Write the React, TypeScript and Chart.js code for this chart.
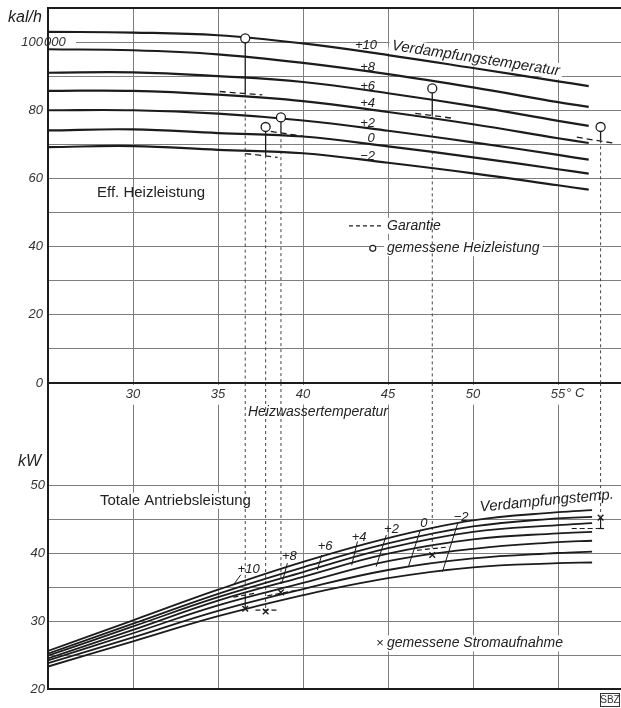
import React, { useEffect, useRef } from 'react';
import { Chart, registerables } from 'chart.js';
Chart.register(...registerables);

const FONT = "'Liberation Sans', 'DejaVu Sans', sans-serif";
const INK = '#1c1c1c';
const GRID = '#7e7e7e';

// ---------- top panel: effective heating capacity (1000 kcal/h) ----------
const tempX = [25, 30, 35, 40, 45, 50, 55, 56.8];
const heatP10 = [103.0, 102.8, 102.0, 99.6, 96.2, 92.4, 88.5, 87.1];
const heatP8 = [97.9, 97.6, 96.4, 93.9, 90.6, 86.7, 82.4, 81.0];
const heatP6 = [91.0, 91.1, 90.0, 88.3, 85.0, 81.2, 76.9, 75.4];
const heatP4 = [85.7, 85.7, 84.6, 82.7, 79.5, 75.9, 71.8, 70.4];
const heatP2 = [80.0, 80.0, 79.0, 77.0, 74.0, 70.6, 66.9, 65.5];
const heat0 = [74.1, 74.4, 73.3, 72.3, 69.4, 66.2, 62.7, 61.4];
const heatM2 = [69.2, 69.5, 68.4, 67.4, 64.6, 61.5, 58.0, 56.7];
const heatSeries = [heatP10, heatP8, heatP6, heatP4, heatP2, heat0, heatM2];
const evapLabels = ['+10', '+8', '+6', '+4', '+2', '0', '\u22122'];
const heatLabelX = [43.7, 43.8, 43.8, 43.8, 43.8, 44.0, 43.8];
const heatLabelY = [99.1, 92.7, 87.1, 82.0, 76.1, 71.7, 66.5];

// measurements (circles) and guarantee values
const measX = [36.6, 37.8, 38.7, 47.6, 57.5];
const measHeat = [101.1, 75.1, 77.9, 86.4, 75.1];
const guarHeat = [84.9, 66.8, 73.3, 78.5, 71.2];
const guarHeatX0 = [35.1, 36.6, 38.1, 46.6, 56.1];
const guarHeatX1 = [37.6, 38.5, 40.0, 48.9, 58.2];
const guarHeatY0 = [85.5, 67.3, 73.8, 79.1, 72.1];
const guarHeatY1 = [84.5, 66.2, 72.4, 77.6, 70.4];

// ---------- bottom panel: total driving power (kW) ----------
const powX = [25, 30, 35, 40, 45, 50, 55, 57];
const powP10 = [25.6, 30.1, 34.6, 38.7, 42.2, 44.8, 46.0, 46.3];
const powP8 = [25.2, 29.6, 34.0, 37.9, 41.4, 43.9, 45.1, 45.3];
const powP6 = [24.9, 29.2, 33.5, 37.2, 40.7, 43.1, 44.1, 44.4];
const powP4 = [24.5, 28.7, 33.0, 36.5, 39.9, 42.0, 42.9, 43.1];
const powP2 = [24.2, 28.2, 32.3, 35.6, 38.8, 40.6, 41.6, 41.8];
const pow0 = [23.8, 27.6, 31.5, 34.7, 37.5, 39.2, 40.0, 40.2];
const powM2 = [23.3, 27.0, 30.7, 33.8, 36.3, 37.9, 38.5, 38.6];
const powSeries = [powP10, powP8, powP6, powP4, powP2, pow0, powM2];

const measPow = [31.8, 31.4, 34.2, 39.7, 45.2];
const powDropEnd = [33.8, 31.9, 34.5, 40.6, 45.5];
const guarPowX0 = [35.9, 37.2, 37.9, 46.7, 55.8];
const guarPowX1 = [37.2, 38.6, 39.8, 48.6, 57.3];
const guarPowY0 = [33.5, 31.6, 33.7, 40.4, 43.6];
const guarPowY1 = [34.1, 31.6, 34.6, 40.9, 43.6];
const powStemX = [36.6, 57.5];
const powStemFrom = [33.8, 45.2];
const powStemTo = [31.8, 43.6];

const leadX0 = [36.34, 39.08, 41.1, 43.2, 44.9, 46.9, 49.1];
const leadY0 = [36.8, 38.5, 39.7, 41.7, 42.65, 43.4, 44.4];
const leadX1 = [35.9, 38.75, 40.84, 42.86, 44.3, 46.2, 48.2];
const leadY1 = [35.3, 35.5, 37.5, 38.2, 38.0, 38.0, 37.25];
const leadLabelX = [36.8, 39.2, 41.3, 43.3, 45.2, 47.1, 49.3];
const leadLabelY = [37.6, 39.5, 40.9, 42.25, 43.5, 44.3, 45.3];

const pts = (xs: number[], ys: number[]) => xs.map((x, i) => ({ x, y: ys[i] }));

function seg(x0: number, y0: number, x1: number, y1: number, w = 1.2, dash: number[] = [], color = INK) {
  return {
    data: [{ x: x0, y: y0 }, { x: x1, y: y1 }],
    borderColor: color,
    borderWidth: w,
    borderDash: dash,
    pointRadius: 0,
    tension: 0,
    fill: false,
  };
}

function curve(xs: number[], ys: number[], w: number) {
  return {
    data: pts(xs, ys),
    borderColor: INK,
    borderWidth: w,
    pointRadius: 0,
    tension: 0.4,
    fill: false,
  };
}

type TOpt = { font: string; align?: CanvasTextAlign; rot?: number; bg?: boolean; color?: string };
function drawText(ctx: CanvasRenderingContext2D, s: string, x: number, y: number, o: TOpt) {
  ctx.save();
  ctx.translate(x, y);
  if (o.rot) ctx.rotate((o.rot * Math.PI) / 180);
  ctx.font = o.font;
  ctx.textAlign = o.align || 'left';
  ctx.textBaseline = 'middle';
  if (o.bg) {
    const w = ctx.measureText(s).width;
    const x0 = o.align === 'center' ? -w / 2 : o.align === 'right' ? -w : 0;
    ctx.fillStyle = '#fff';
    ctx.fillRect(x0 - 3, -8, w + 6, 16);
  }
  ctx.fillStyle = o.color || '#222';
  ctx.fillText(s, 0, 0);
  ctx.restore();
}

const it = (n: number) => `italic ${n}px ${FONT}`;
const up = (n: number) => `${n}px ${FONT}`;

const topPlugin = {
  id: 'topAnnot',
  beforeDatasetsDraw(chart: any) {
    const ctx = chart.ctx as CanvasRenderingContext2D;
    const xs = chart.scales.x, ys = chart.scales.y, ca = chart.chartArea;
    const X = (v: number) => xs.getPixelForValue(v);
    const Y = (v: number) => ys.getPixelForValue(v);
    ctx.save();
    ctx.strokeStyle = INK;
    ctx.lineWidth = 2;
    ctx.beginPath();
    ctx.moveTo(ca.left, ca.top);
    ctx.lineTo(ca.right, ca.top);
    ctx.stroke();
    ctx.restore();
    drawText(ctx, 'kal/h', 8, 18, { font: it(16) });
    ctx.save();
    ctx.fillStyle = '#fff';
    ctx.fillRect(ca.left + 2, Y(100) - 6, 26, 12);
    ctx.restore();
    drawText(ctx, '000', ca.left - 4, Y(100), { font: it(13), color: '#333' });
    drawText(ctx, 'Eff. Heizleistung', 97, Y(55.8), { font: up(15) });
    evapLabels.forEach((l, i) =>
      drawText(ctx, l, X(heatLabelX[i]), Y(heatLabelY[i]), { font: it(13), align: 'center' })
    );
    drawText(ctx, 'Verdampfungstemperatur', X(50.16), Y(95.2), { font: it(15), align: 'center', rot: 8.7, bg: true });
    // legend
    ctx.save();
    ctx.strokeStyle = INK;
    ctx.lineWidth = 1.2;
    ctx.setLineDash([4, 3]);
    ctx.beginPath();
    ctx.moveTo(X(42.7), Y(46.1));
    ctx.lineTo(X(44.8), Y(46.1));
    ctx.stroke();
    ctx.restore();
    drawText(ctx, 'Garantie', X(44.94), Y(46.1), { font: it(14), bg: true });
    drawText(ctx, 'gemessene Heizleistung', X(44.94), Y(39.5), { font: it(14), bg: true });
    ctx.save();
    ctx.fillStyle = '#fff';
    ctx.strokeStyle = INK;
    ctx.lineWidth = 1.2;
    ctx.beginPath();
    ctx.arc(X(44.1), Y(39.5), 3, 0, Math.PI * 2);
    ctx.fill();
    ctx.stroke();
    ctx.restore();
  },
  afterDraw(chart: any) {
    const ctx = chart.ctx as CanvasRenderingContext2D;
    const xs = chart.scales.x, ca = chart.chartArea;
    drawText(ctx, '\u00B0 C', xs.getPixelForValue(55) + 8, ca.bottom + 10, { font: it(13), color: '#333' });
  },
};

const botPlugin = {
  id: 'botAnnot',
  beforeDatasetsDraw(chart: any) {
    const ctx = chart.ctx as CanvasRenderingContext2D;
    const xs = chart.scales.x, ys = chart.scales.y;
    const X = (v: number) => xs.getPixelForValue(v);
    const Y = (v: number) => ys.getPixelForValue(v);
    drawText(ctx, 'Heizwassertemperatur', X(36.76), Y(60.7), { font: it(14) });
    drawText(ctx, 'kW', 18, Y(53.4), { font: it(16) });
    drawText(ctx, 'Totale Antriebsleistung', X(28.06), Y(47.7), { font: up(15), bg: true });
    drawText(ctx, '\u00D7', X(44.3), Y(26.7), { font: up(13) });
    drawText(ctx, 'gemessene Stromaufnahme', X(44.94), Y(26.7), { font: it(14), bg: true });
    evapLabels.forEach((l, i) =>
      drawText(ctx, l, X(leadLabelX[i]), Y(leadLabelY[i]), { font: it(13), align: 'center' })
    );
    drawText(ctx, 'Verdampfungstemp.', X(50.4), Y(46.7), { font: it(15), rot: -5.5 });
  },
  afterDraw(chart: any) {
    const ctx = chart.ctx as CanvasRenderingContext2D;
    const ca = chart.chartArea;
    ctx.save();
    ctx.strokeStyle = '#333';
    ctx.lineWidth = 1;
    ctx.strokeRect(600.5, ca.bottom + 4.5, 19, 13);
    ctx.restore();
    drawText(ctx, 'SBZ', 610, ca.bottom + 11, { font: up(10), align: 'center', color: '#333' });
  },
};

function topConfig(): any {
  const datasets: any[] = [];
  datasets.push({
    data: pts(measX, measHeat),
    showLine: false,
    pointRadius: 4.5,
    pointBackgroundColor: '#fff',
    pointBorderColor: INK,
    pointBorderWidth: 1.3,
  });
  measX.forEach((x, i) => datasets.push(seg(x, measHeat[i], x, guarHeat[i], 1.3)));
  guarHeatX0.forEach((x, i) => datasets.push(seg(x, guarHeatY0[i], guarHeatX1[i], guarHeatY1[i], 1.3, [6, 4])));
  heatSeries.forEach((s) => datasets.push(curve(tempX, s, 2.2)));
  measX.forEach((x, i) => datasets.push(seg(x, guarHeat[i], x, 0, 1, [3, 3], '#444')));
  return {
    type: 'line',
    data: { datasets },
    plugins: [topPlugin],
    options: {
      animation: false,
      responsive: false,
      events: [],
      layout: { autoPadding: false, padding: { top: 8, left: 0, right: 0, bottom: 0 } },
      plugins: { legend: { display: false }, tooltip: { enabled: false } },
      scales: {
        x: {
          type: 'linear',
          min: 25,
          max: 58.7,
          afterBuildTicks: (s: any) => {
            s.ticks = s.ticks.filter((t: any) => Number.isInteger(t.value) && t.value > 25);
          },
          afterFit: (s: any) => {
            s.height = 22;
            s.paddingLeft = 0;
            s.paddingRight = 0;
          },
          ticks: {
            stepSize: 5,
            autoSkip: false,
            maxRotation: 0,
            padding: 4,
            color: '#333',
            font: { size: 13, style: 'italic' },
            showLabelBackdrop: true,
            backdropColor: '#fff',
            backdropPadding: { top: 2, bottom: 2, left: 1, right: 1 },
          },
          grid: { color: GRID, lineWidth: 1, drawTicks: false },
          border: { color: INK, width: 2 },
        },
        y: {
          type: 'linear',
          min: 0,
          max: 110,
          afterBuildTicks: (s: any) => {
            s.ticks = s.ticks.filter((t: any) => t.value <= 100);
          },
          afterFit: (s: any) => {
            s.width = 48;
            s.paddingTop = 0;
            s.paddingBottom = 0;
          },
          ticks: {
            stepSize: 10,
            padding: 5,
            color: '#333',
            font: { size: 13, style: 'italic' },
            callback: (v: number) => (v % 20 === 0 ? String(v) : ''),
          },
          grid: { color: GRID, lineWidth: 1, drawTicks: false },
          border: { color: INK, width: 2 },
        },
      },
    },
  };
}

function botConfig(): any {
  const datasets: any[] = [];
  datasets.push({
    data: pts(measX, measPow),
    showLine: false,
    pointStyle: 'crossRot',
    pointRadius: 4,
    pointBorderColor: INK,
    pointBorderWidth: 1.4,
  });
  powStemX.forEach((x, i) => datasets.push(seg(x, powStemFrom[i], x, powStemTo[i], 1.2)));
  datasets.push(seg(57.3, 43.6, 57.7, 43.6, 1.2));
  guarPowX0.forEach((x, i) => datasets.push(seg(x, guarPowY0[i], guarPowX1[i], guarPowY1[i], 1.2, [5, 3])));
  powSeries.forEach((s) => datasets.push(curve(powX, s, 1.8)));
  leadX0.forEach((x, i) => datasets.push(seg(x, leadY0[i], leadX1[i], leadY1[i], 1)));
  measX.forEach((x, i) => datasets.push(seg(x, 65, x, powDropEnd[i], 1, [3, 3], '#444')));
  return {
    type: 'line',
    data: { datasets },
    plugins: [botPlugin],
    options: {
      animation: false,
      responsive: false,
      events: [],
      layout: { autoPadding: false, padding: { top: 0, left: 0, right: 0, bottom: 0 } },
      plugins: { legend: { display: false }, tooltip: { enabled: false } },
      scales: {
        x: {
          type: 'linear',
          min: 25,
          max: 58.7,
          afterBuildTicks: (s: any) => {
            s.ticks = s.ticks.filter((t: any) => Number.isInteger(t.value) && t.value > 25);
          },
          afterFit: (s: any) => {
            s.height = 19;
            s.paddingLeft = 0;
            s.paddingRight = 0;
          },
          ticks: { stepSize: 5, display: false },
          grid: { color: GRID, lineWidth: 1, drawTicks: false },
          border: { color: INK, width: 2 },
        },
        y: {
          type: 'linear',
          min: 20,
          max: 65,
          afterBuildTicks: (s: any) => {
            s.ticks = s.ticks.filter((t: any) => t.value <= 50);
          },
          afterFit: (s: any) => {
            s.width = 48;
            s.paddingTop = 0;
            s.paddingBottom = 0;
          },
          ticks: {
            stepSize: 5,
            padding: 3,
            color: '#333',
            font: { size: 13, style: 'italic' },
            callback: (v: number) => (v % 10 === 0 ? String(v) : ''),
          },
          grid: { color: GRID, lineWidth: 1, drawTicks: false },
          border: { color: INK, width: 2 },
        },
      },
    },
  };
}

export default function App() {
  const topRef = useRef<HTMLCanvasElement>(null);
  const botRef = useRef<HTMLCanvasElement>(null);
  useEffect(() => {
    Chart.defaults.font.family = FONT;
    const top = new Chart(topRef.current as HTMLCanvasElement, topConfig());
    const bot = new Chart(botRef.current as HTMLCanvasElement, botConfig());
    return () => {
      top.destroy();
      bot.destroy();
    };
  }, []);
  return (
    <div style={{ position: 'fixed', left: 0, top: 0, width: 621, height: 708, background: '#fff', overflow: 'hidden' }}>
      <canvas
        ref={botRef}
        width={621}
        height={325}
        style={{ position: 'absolute', left: 0, top: 383, width: 621, height: 325, zIndex: 1 }}
      />
      <canvas
        ref={topRef}
        width={621}
        height={405}
        style={{ position: 'absolute', left: 0, top: 0, width: 621, height: 405, zIndex: 2 }}
      />
    </div>
  );
}
